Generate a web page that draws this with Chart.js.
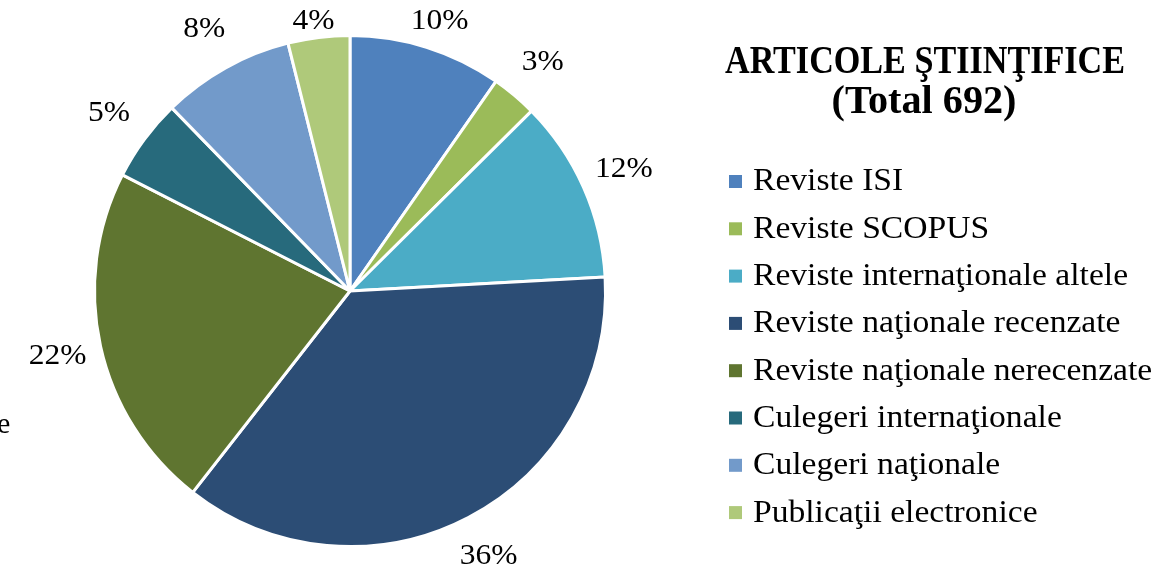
<!DOCTYPE html>
<html>
<head>
<meta charset="utf-8">
<script src="https://cdn.jsdelivr.net/npm/chart.js@4.4.1/dist/chart.umd.min.js"></script>
<style>
  html, body { margin: 0; padding: 0; background: #fff; }
  #wrap { width: 1165px; height: 564px; }
</style>
</head>
<body>
<div id="wrap"><canvas id="myChart" width="1165" height="564"></canvas></div>
<script>
// data (total 692 articles)
const categories = [
  "Reviste ISI",
  "Reviste SCOPUS",
  "Reviste internaţionale altele",
  "Reviste naţionale recenzate",
  "Reviste naţionale nerecenzate",
  "Culegeri internaţionale",
  "Culegeri naţionale",
  "Publicaţii electronice"
];
const counts = [67, 20, 80, 252, 152, 36, 58, 27];
const colors = ["#4f81bd", "#9bbb59", "#4bacc6", "#2c4d75", "#5f7530", "#276a7c", "#729aca", "#afc97a"];
const titleLines = ["ARTICOLE ŞTIINŢIFICE", "(Total 692)"];

const total = counts.reduce((a, b) => a + b, 0);
const serif = "'Liberation Serif', 'DejaVu Serif', serif";

// draw text squeezed/stretched to a given width (Cambria is wider than Times)
const fitText = (ctx, txt, x, y, sx) => {
  ctx.save();
  ctx.translate(x, y);
  ctx.scale(sx, 1);
  ctx.fillText(txt, 0, 0);
  ctx.restore();
};

// percent labels outside the slices + title + legend on the right
const textPlugin = {
  id: "textPlugin",
  afterDraw(chart) {
    const ctx = chart.ctx;
    const arcs = chart.getDatasetMeta(0).data;
    ctx.save();
    ctx.fillStyle = "#000";
    ctx.font = "30px " + serif;
    ctx.textAlign = "center";
    ctx.textBaseline = "middle";
    arcs.forEach((arc, i) => {
      const a = (arc.startAngle + arc.endAngle) / 2;
      const r = arc.outerRadius + 44;
      let x = arc.x + Math.cos(a) * r;
      let y = arc.y + Math.sin(a) * r;
      if (y < 21) y = 21;
      fitText(ctx, Math.round(counts[i] / total * 100) + "%", x, y, 1.05);
    });
    // stray cut label at the left edge
    ctx.textAlign = "left";
    ctx.fillText("e", -3, 425);

    // title
    ctx.textAlign = "center";
    ctx.textBaseline = "alphabetic";
    ctx.font = "bold 41px " + serif;
    fitText(ctx, titleLines[0], 925, 73, 400 / ctx.measureText(titleLines[0]).width);
    fitText(ctx, titleLines[1], 924, 113, 185 / ctx.measureText(titleLines[1]).width);

    // legend
    ctx.font = "32px " + serif;
    ctx.textAlign = "left";
    ctx.textBaseline = "middle";
    categories.forEach((c, i) => {
      const y = 181 + i * 47.3;
      ctx.fillStyle = colors[i];
      ctx.fillRect(729, y - 6, 13, 13);
      ctx.fillStyle = "#000";
      fitText(ctx, c, 753, y + 1, 1.05);
    });
    ctx.restore();
  }
};

new Chart(document.getElementById("myChart"), {
  type: "pie",
  data: {
    labels: categories,
    datasets: [{
      data: counts,
      backgroundColor: colors,
      borderColor: "#fff",
      borderWidth: 3
    }]
  },
  options: {
    responsive: false,
    animation: false,
    layout: { padding: { left: 93, right: 558, top: 34, bottom: 16 } },
    plugins: {
      legend: { display: false },
      tooltip: { enabled: false }
    }
  },
  plugins: [textPlugin]
});
</script>
</body>
</html>
